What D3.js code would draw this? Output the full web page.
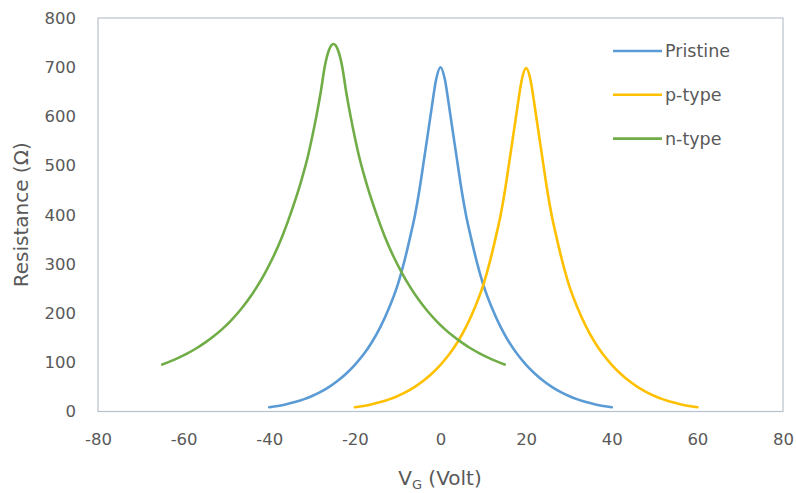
<!DOCTYPE html>
<html>
<head>
<meta charset="utf-8">
<script src="https://cdn.jsdelivr.net/npm/d3@7"></script>
<style>
  html, body { margin: 0; padding: 0; background: #fff; }
  svg { display: block; }
  .tick text { font-family: "DejaVu Sans", sans-serif; font-size: 16.5px; fill: #595959; }
</style>
</head>
<body>
<svg id="chart" width="796" height="493"></svg>
<script>
// Gate voltage (V) and sheet resistance (Ohm) for each device
const pristineV = [-40,-38,-36,-34,-32,-30,-28,-26,-24,-22,-20,-18,-16,-14,-12,-10,-8,-7,-6,-5,-4,-3,-2,-1,0,1,2,3,4,5,6,7,8,10,12,14,16,18,20,22,24,26,28,30,32,34,36,38,40];
const pristineR = [8.6,11.3,14.8,19.2,24.7,31.5,39.9,50.2,62.5,77.3,95,115.7,141.3,172.6,210.8,257.5,320.9,358.1,397.7,446.3,503.4,561.8,620.9,676,700,676,620.9,561.8,503.4,446.3,397.7,358.1,320.9,257.5,210.8,172.6,141.3,115.7,95,77.3,62.5,50.2,39.9,31.5,24.7,19.2,14.8,11.3,8.6];

const pTypeV = [-20,-18,-16,-14,-12,-10,-8,-6,-4,-2,0,2,4,6,8,10,12,13,14,15,16,17,18,19,20,21,22,23,24,25,26,27,28,30,32,34,36,38,40,42,44,46,48,50,52,54,56,58,60];
const pTypeR = [8.6,11.3,14.8,19.2,24.7,31.5,39.9,50.2,62.5,77.3,95,115.7,141.3,172.6,210.8,257.5,320.9,358.1,397.7,446.3,503.4,561.8,620.9,675,698,675,620.9,561.8,503.4,446.3,397.7,358.1,320.9,257.5,210.8,172.6,141.3,115.7,95,77.3,62.5,50.2,39.9,31.5,24.7,19.2,14.8,11.3,8.6];

const nTypeV = [-65,-63,-61,-59,-57,-55,-53,-51,-49,-47,-45,-43,-41,-39,-37,-35,-33,-32,-31,-30,-29,-28,-27,-26,-25,-24,-23,-22,-21,-20,-19,-18,-17,-15,-13,-11,-9,-7,-5,-3,-1,1,3,5,7,9,11,13,15];
const nTypeR = [95.7,102.4,110.1,118.8,128.6,139.9,152.8,167.5,184.4,203.8,226.1,251.9,281.5,315.5,355.4,402.3,455,485,518,557,600,648,703,736,747,736,703,648,600,557,518,485,455,402.3,355.4,315.5,281.5,251.9,226.1,203.8,184.4,167.5,152.8,139.9,128.6,118.8,110.1,102.4,95.7];

const seriesNames = ["Pristine", "p-type", "n-type"];
const seriesColors = ["#5b9bd5", "#ffc000", "#70ad47"];

const xTicks = [-80,-60,-40,-20,0,20,40,60,80];
const yTicks = [0,100,200,300,400,500,600,700,800];

const series = [
  { name: seriesNames[0], color: seriesColors[0], pts: pristineV.map((v, i) => [v, pristineR[i]]) },
  { name: seriesNames[1], color: seriesColors[1], pts: pTypeV.map((v, i) => [v, pTypeR[i]]) },
  { name: seriesNames[2], color: seriesColors[2], pts: nTypeV.map((v, i) => [v, nTypeR[i]]) }
];

const svg = d3.select("#chart");
const plotL = 98, plotR = 783, plotT = 18, plotB = 411.5;

const x = d3.scaleLinear().domain([-80, 80]).range([plotL, plotR]);
const y = d3.scaleLinear().domain([0, 800]).range([plotB, plotT]);

// plot area frame
svg.append("rect")
  .attr("x", plotL).attr("y", plotT)
  .attr("width", plotR - plotL).attr("height", plotB - plotT)
  .attr("fill", "#fff")
  .attr("stroke", "#b9c1cc")
  .attr("stroke-width", 1.2);

// axes (labels only, plain hyphen for negatives)
const fmt = d => String(d);
const gx = svg.append("g")
  .attr("transform", `translate(0,${plotB})`)
  .call(d3.axisBottom(x).tickValues(xTicks).tickFormat(fmt).tickSize(0).tickPadding(22));
gx.select(".domain").remove();

const gy = svg.append("g")
  .attr("transform", `translate(${plotL},0)`)
  .call(d3.axisLeft(y).tickValues(yTicks).tickFormat(fmt).tickSize(0).tickPadding(22));
gy.select(".domain").remove();

// curves
const line = d3.line()
  .x(d => x(d[0]))
  .y(d => y(d[1]))
  .curve(d3.curveMonotoneX);

svg.append("g").selectAll("path")
  .data(series)
  .join("path")
  .attr("d", d => line(d.pts))
  .attr("fill", "none")
  .attr("stroke", d => d.color)
  .attr("stroke-width", 2.6)
  .attr("stroke-linejoin", "round")
  .attr("stroke-linecap", "round");

// legend
const legend = svg.append("g");
series.forEach((s, i) => {
  const ly = 51 + i * 43.8;
  legend.append("line")
    .attr("x1", 613).attr("x2", 662)
    .attr("y1", ly).attr("y2", ly)
    .attr("stroke", s.color).attr("stroke-width", 2.6);
  legend.append("text")
    .attr("x", 665).attr("y", ly)
    .attr("dy", "0.35em")
    .attr("font-family", "DejaVu Sans, sans-serif")
    .attr("font-size", 17.5)
    .attr("fill", "#595959")
    .text(s.name);
});

// axis titles
svg.append("text")
  .attr("transform", `translate(28,${(plotT + plotB) / 2}) rotate(-90)`)
  .attr("text-anchor", "middle")
  .attr("font-family", "DejaVu Sans, sans-serif")
  .attr("font-size", 20)
  .attr("fill", "#595959")
  .text("Resistance (Ω)");

const xt = svg.append("text")
  .attr("x", 440)
  .attr("y", 485)
  .attr("text-anchor", "middle")
  .attr("font-family", "DejaVu Sans, sans-serif")
  .attr("font-size", 20)
  .attr("fill", "#595959");
xt.append("tspan").text("V");
xt.append("tspan").attr("font-size", 13).attr("dy", 4).text("G");
xt.append("tspan").attr("dy", -4).text(" (Volt)");
</script>
</body>
</html>
